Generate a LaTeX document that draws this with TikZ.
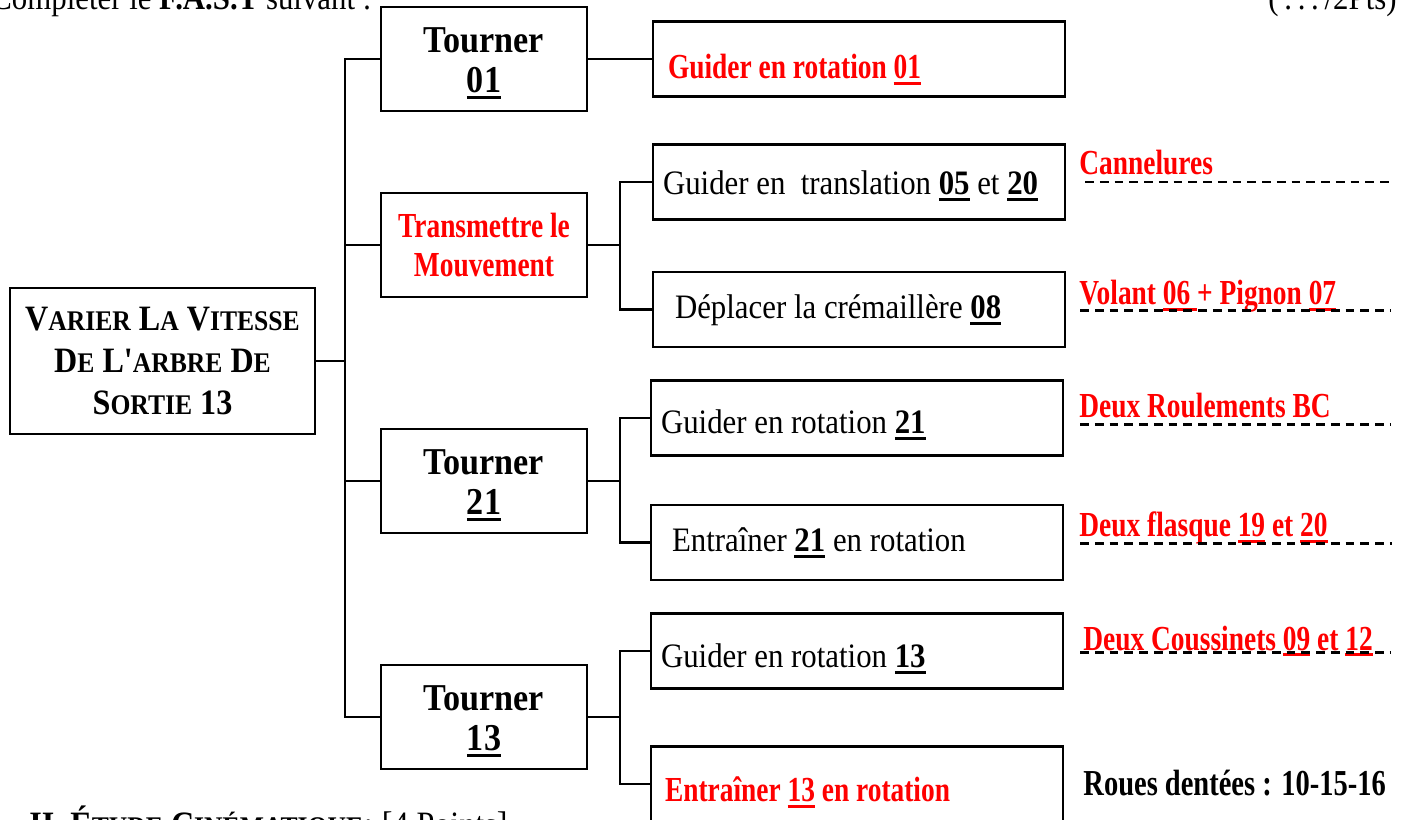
\documentclass[tikz,border=0pt]{standalone}
\usepackage{fontspec}
\setmainfont{Liberation Serif}
\newfontfamily\serre[FakeStretch=0.78]{Liberation Serif}
\newfontfamily\mince[FakeStretch=0.9]{Liberation Serif}
\usepackage{xcolor}
\definecolor{rouge}{RGB}{255,0,0}
\newsavebox{\boitesoul}
\newcommand{\souligne}[1]{\sbox{\boitesoul}{#1}\leavevmode\rlap{\rule[-3.5pt]{\wd\boitesoul}{1.6pt}}\usebox{\boitesoul}}
\newcommand{\pc}[1]{{\fontsize{16.2}{23.8}\selectfont #1}}
\usepackage{tikz}
\usetikzlibrary{arrows,shapes,positioning}
\tikzset{
  every picture/.style = {
    line width = 1.6pt,
    x = 0.02cm,
    y = -0.02cm
  }
  ,
  principale/.style = {
    rectangle,
    draw,
    minimum width = 6.1cm,
    minimum height = 2.92cm,
    align = center,
    font = \mince\bfseries\fontsize{20.3}{23.8}\selectfont
  }
  , % fonctions de service
  fonction/.style = {
    rectangle,
    draw,
    minimum width = 4.12cm,
    minimum height = 2.08cm,
    align = center,
    font = \mince\bfseries\fontsize{21.6}{22.7}\selectfont
  }
  ,
  tourner/.style = {
    fonction,
    text height = 41.6pt,
    text depth = 3.5pt
  }
  , % fonctions techniques (#1 : hauteur de la ligne de base)
  technique/.style = {
    rectangle,
    draw,
    minimum height = 1.5cm,
    text width = 7.84cm,
    inner xsep = 0.2cm,
    align = flush left,
    text height = #1,
    text depth = 0pt,
    font = \mince\fontsize{19.5}{22}\selectfont
  }
  ,
  rougegras/.style = {
    text = rouge,
    font = \serre\bfseries\fontsize{20}{22.7}\selectfont
  }
  , % solutions
  solution/.style = {
    anchor = base west,
    inner sep = 0pt,
    rougegras
  }
  ,
  pointille/.style = {
    dash pattern = on 5pt off 3.4pt,
    line width = 1.6pt
  }
  ,
  marge/.style = {
    inner sep = 0pt,
    font = \mince\fontsize{19.5}{22}\selectfont
  }
}

\begin{document}
\begin{tikzpicture}
\useasboundingbox (0,0) rectangle (1406,820);
\node[marge, anchor=base west] at (-10,10) (consigne) {Compléter le \textbf{F.A.S.T} suivant :};
\node[marge, anchor=base east] at (1398,10) (bareme) {(\,.\,.\,.\,/2Pts)};
\node[marge, anchor=base west, font=\mince\bfseries\fontsize{20.3}{24}\selectfont] at (28,836) (partie) {II. É\pc{TUDE} C\pc{INÉMATIQUE}: \textmd{[4 Points]}};

\node[principale] at (162.5,361) (fp) {V\pc{ARIER} L\pc{A} V\pc{ITESSE}\\D\pc{E} L'\pc{ARBRE} D\pc{E}\\S\pc{ORTIE} 13};

\node[tourner] at (484,59) (t01) {Tourner\\\souligne{01}};
\node[fonction, rougegras] at (484,245) (tm) {Transmettre le\\Mouvement};
\node[tourner] at (484,481) (t21) {Tourner\\\souligne{21}};
\node[tourner] at (484,717) (t13) {Tourner\\\souligne{13}};

\node[technique=22.7pt, rougegras] at (859,59) (g01) {\hspace*{0.1cm}Guider en rotation \souligne{01}};
\node[technique=14.7pt] at (859,182) (gt) {Guider en~ translation \textbf{\souligne{05}} et \textbf{\souligne{20}}};
\node[technique=10.2pt] at (859,309.5) (dc) {\hspace*{0.24cm}Déplacer la crémaillère \textbf{\souligne{08}}};
\node[technique=18.1pt] at (857,418) (g21) {Guider en rotation \textbf{\souligne{21}}};
\node[technique=10.2pt] at (857,542.5) (e21) {\hspace*{0.22cm}Entraîner \textbf{\souligne{21}} en rotation};
\node[technique=19.3pt] at (857,651) (g13) {Guider en rotation \textbf{\souligne{13}}};
\node[technique=20.4pt, rougegras] at (857,784) (e13) {\hspace*{0.08cm}Entraîner \souligne{13} en rotation};

\node[solution] at (1078,175) (cann) {Cannelures};
\node[solution] at (1078,305) (vol) {Volant \souligne{06 }+ Pignon \souligne{07}};
\node[solution] at (1078,418) (roul) {Deux Roulements BC};
\node[solution] at (1078,537) (flas) {Deux flasque \souligne{19} et \souligne{20}};
\node[solution] at (1082,650) (cous) {Deux Coussinets \souligne{09} et \souligne{12}};
\node[solution, text=black, font=\serre\bfseries\fontsize{20.8}{24}\selectfont] at (1082,795) (roues) {Roues dentées : 10-15-16};

\draw[pointille] ([yshift=-4pt]cann.base west) ++(7,0) -- ++(307,0);
\draw[pointille] ([yshift=-3pt]vol.base west) ++(2,0) -- ++(310,0);
\draw[pointille] ([yshift=-3.5pt]roul.base west) ++(2,0) -- ++(310,0);
\draw[pointille] ([yshift=-3.5pt]flas.base west) ++(2,0) -- ++(312,0);
\draw[pointille] ([yshift=-1.5pt]cous.base west) ++(-2,0) -- ++(310,0);

\coordinate (e1) at (345,0);
\coordinate (e2) at (620,0);
\draw (fp.east) -- (fp.east -| e1);
\draw (t01.west) -| (e1 |- t13.west) -- (t13.west);
\draw (tm.west) -- (tm.west -| e1);
\draw (t21.west) -- (t21.west -| e1);
\draw (t01.east) -- (g01.west);
\draw (tm.east) -- (tm.east -| e2);
\draw (gt.west) -| (e2 |- dc.west) -- (dc.west);
\draw (t21.east) -- (t21.east -| e2);
\draw (g21.west) -| (e2 |- e21.west) -- (e21.west);
\draw (t13.east) -- (t13.east -| e2);
\draw (g13.west) -| (e2 |- e13.west) -- (e13.west);
\end{tikzpicture}
\end{document}
